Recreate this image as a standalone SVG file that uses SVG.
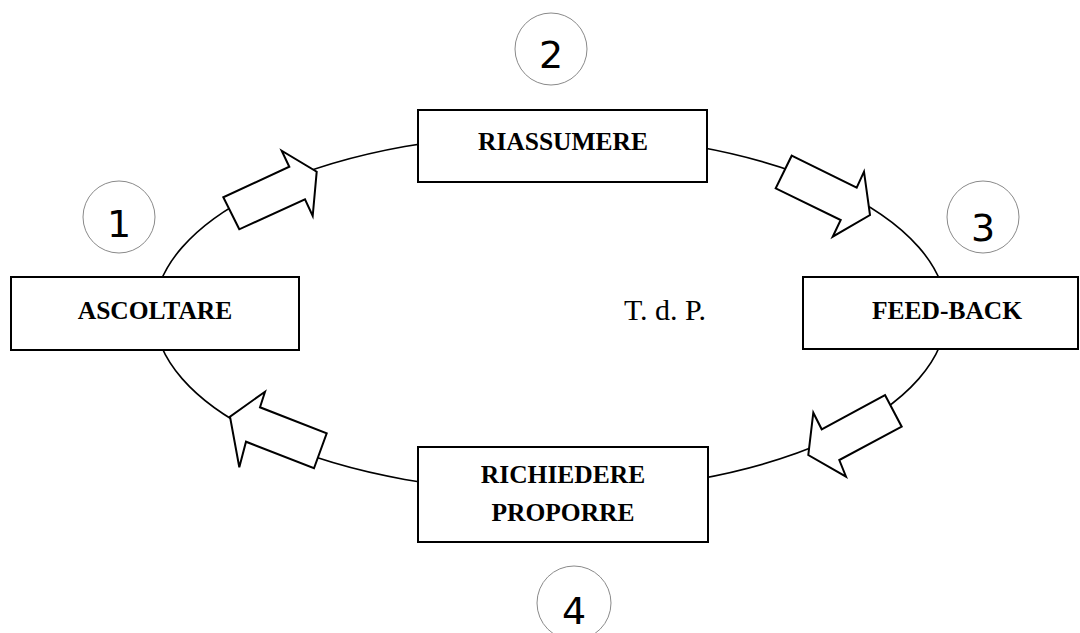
<svg xmlns="http://www.w3.org/2000/svg" width="1080" height="633" viewBox="0 0 1080 633">
<style>
.box{fill:#fff;stroke:#000;stroke-width:2}
.lbl{font-family:"Liberation Serif","Times New Roman",serif;font-weight:bold;font-size:25.5px;text-anchor:middle;fill:#000}
.arr{fill:#fff;stroke:#000;stroke-width:2;stroke-linejoin:miter}
.ring{fill:#fff;stroke:#8a8a8a;stroke-width:1}
.num{font-family:"DejaVu Sans",sans-serif;font-size:38px;text-anchor:middle;fill:#000}
</style>
<rect width="1080" height="633" fill="#fff"/>
<g id="connectors">
<ellipse cx="550.5" cy="313" rx="396" ry="179" fill="none" stroke="#000" stroke-width="1.6"/>
<polygon class="arr" points="239.3,229.3 223.3,197.3 289.3,166.7 281.7,150.7 316.7,171.7 312.7,216 305,199.3"/>
<polygon class="arr" points="791.7,155.7 856.7,187.7 864,171.7 870,215 832.7,236.7 840.7,220 775.7,188.3"/>
<polygon class="arr" points="885,395 901.7,426.7 839.3,460 846,476.7 808.3,455 813.3,412.7 821.7,429.3"/>
<polygon class="arr" points="265,391.7 230,416.7 239.3,467.3 246,441.7 314,468.3 326.7,433.3 260,407.3"/>
</g>
<g id="ascoltare">
<rect class="box" x="11" y="277" width="288" height="73"/>
<text class="lbl" x="155" y="319">ASCOLTARE</text>
</g>
<g id="riassumere">
<rect class="box" x="418" y="110" width="289" height="72"/>
<text class="lbl" x="563" y="150">RIASSUMERE</text>
</g>
<g id="feedback">
<rect class="box" x="803" y="277" width="275" height="72"/>
<text class="lbl" x="947" y="319">FEED-BACK</text>
</g>
<g id="richiedere">
<rect class="box" x="418" y="447" width="290" height="95"/>
<text class="lbl" x="563" y="483">RICHIEDERE</text>
<text class="lbl" x="563" y="521">PROPORRE</text>
</g>
<g id="center">
<text x="665" y="320" font-family="Liberation Serif, Times New Roman, serif" font-size="30" text-anchor="middle">T. d. P.</text>
</g>
<g id="n1">
<circle class="ring" cx="119" cy="217" r="36"/>
<text class="num" x="119" y="237">1</text>
</g>
<g id="n2">
<circle class="ring" cx="551" cy="49" r="36"/>
<text class="num" x="551" y="68">2</text>
</g>
<g id="n3">
<circle class="ring" cx="983" cy="217" r="36"/>
<text class="num" x="983" y="241">3</text>
</g>
<g id="n4">
<circle class="ring" cx="574" cy="603" r="37"/>
<text class="num" x="574" y="624">4</text>
</g>
</svg>
